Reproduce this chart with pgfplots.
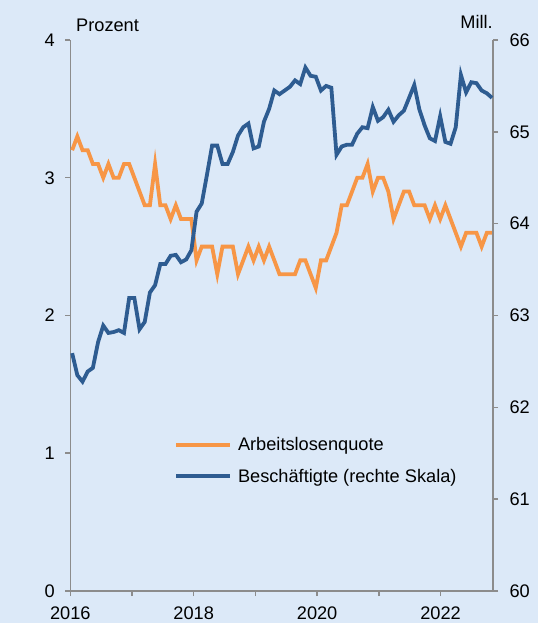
\documentclass[border=0pt]{standalone}
\usepackage{fontspec}
\setmainfont{Liberation Sans}
\usepackage{pgfplots}
\pgfplotsset{compat=1.18}
\usepackage{pgfplotstable}
\definecolor{bg}{HTML}{DCE9F8}
\definecolor{alq}{HTML}{F79646}
\definecolor{besch}{HTML}{2E5C91}
\definecolor{axgray}{HTML}{8C8C8C}
\newcommand\chartfont{\fontsize{18.2}{22}\selectfont}

% t = Zeit (Jahre), u = Arbeitslosenquote (%), e = Beschäftigte (Mill.)
\pgfplotstableread{
t        u    e
2016.030 3.2 62.59
2016.114 3.3 62.35
2016.198 3.2 62.28
2016.282 3.2 62.39
2016.366 3.1 62.43
2016.450 3.1 62.71
2016.534 3.0 62.89
2016.618 3.1 62.81
2016.702 3.0 62.82
2016.786 3.0 62.84
2016.870 3.1 62.81
2016.954 3.1 63.19
2017.038 3.0 63.19
2017.122 2.9 62.85
2017.206 2.8 62.93
2017.290 2.8 63.25
2017.374 3.1 63.33
2017.458 2.8 63.56
2017.542 2.8 63.56
2017.626 2.7 63.65
2017.710 2.8 63.66
2017.794 2.7 63.58
2017.878 2.7 63.61
2017.962 2.7 63.71
2018.046 2.4 64.13
2018.130 2.5 64.22
2018.214 2.5 64.53
2018.298 2.5 64.85
2018.382 2.3 64.85
2018.466 2.5 64.65
2018.550 2.5 64.65
2018.634 2.5 64.78
2018.718 2.3 64.96
2018.802 2.4 65.05
2018.886 2.5 65.09
2018.970 2.4 64.82
2019.054 2.5 64.84
2019.138 2.4 65.11
2019.222 2.5 65.25
2019.306 2.4 65.45
2019.390 2.3 65.41
2019.474 2.3 65.45
2019.558 2.3 65.49
2019.642 2.3 65.56
2019.726 2.4 65.52
2019.810 2.4 65.70
2019.894 2.3 65.61
2019.978 2.2 65.60
2020.062 2.4 65.45
2020.146 2.4 65.50
2020.230 2.5 65.48
2020.314 2.6 64.75
2020.398 2.8 64.84
2020.482 2.8 64.86
2020.566 2.9 64.86
2020.650 3.0 64.98
2020.734 3.0 65.05
2020.818 3.1 65.04
2020.902 2.9 65.27
2020.986 3.0 65.12
2021.070 3.0 65.16
2021.154 2.9 65.24
2021.238 2.7 65.11
2021.322 2.8 65.18
2021.406 2.9 65.23
2021.490 2.9 65.37
2021.574 2.8 65.51
2021.658 2.8 65.24
2021.742 2.8 65.07
2021.826 2.7 64.93
2021.910 2.8 64.90
2021.994 2.7 65.17
2022.078 2.8 64.89
2022.162 2.7 64.87
2022.246 2.6 65.05
2022.330 2.5 65.62
2022.414 2.6 65.43
2022.498 2.6 65.54
2022.582 2.6 65.53
2022.666 2.5 65.45
2022.750 2.6 65.42
2022.834 2.6 65.37
}\data

\pgfplotsset{
  base/.style={
    at={(0,0)}, anchor=south west, scale only axis,
    width=422.7pt, height=551pt,
    xmin=2016, xmax=2022.85,
    axis line style={-, axgray, line width=1.5pt},
    tick style={axgray, line width=1.5pt},
    tick align=outside, major tick length=5pt, minor tick length=5pt,
    ticklabel style={font=\chartfont},
    /pgf/number format/assume math mode=true,
    /pgf/number format/1000 sep={},
  },
}

\begin{document}
\begin{tikzpicture}[x=1pt,y=1pt]
\fill[bg] (-70.3,-32) rectangle (467.7,591);
\begin{axis}[base,
  axis x line*=bottom, axis y line*=left,
  ymin=0, ymax=4, ytick={0,1,2,3,4},
  xtick={2016,2018,2020,2022}, minor xtick={2017,2019,2021},
  yticklabel style={xshift=-7pt},
  xticklabel style={yshift=-7pt},
  legend style={at={(0.2383,0.2368)}, anchor=west, draw=none, fill=none,
    font=\chartfont, nodes={inner sep=0pt},
    column sep=6pt, row sep=17pt},
  legend cell align=left,
  legend image code/.code={\draw[#1] (0pt,0pt) -- (54pt,0pt);},
]
\addplot[alq, line width=3.8pt] table[x=t, y=u] {\data};
\addlegendentry{Arbeitslosenquote}
\addlegendimage{besch, line width=3.8pt}
\addlegendentry{Beschäftigte (rechte Skala)}
\end{axis}
\begin{axis}[base,
  axis x line=none, axis y line*=right,
  ymin=60, ymax=66, ytick={60,61,62,63,64,65,66},
  yticklabel style={xshift=8pt},
]
\addplot[besch, line width=3.8pt] table[x=t, y=e] {\data};
\end{axis}
\node[anchor=base west, font=\chartfont, inner sep=0pt] at (5.7,559.3) {Prozent};
\node[anchor=base east, font=\chartfont, inner sep=0pt] at (422.7,562.7) {Mill.};
\end{tikzpicture}
\end{document}
